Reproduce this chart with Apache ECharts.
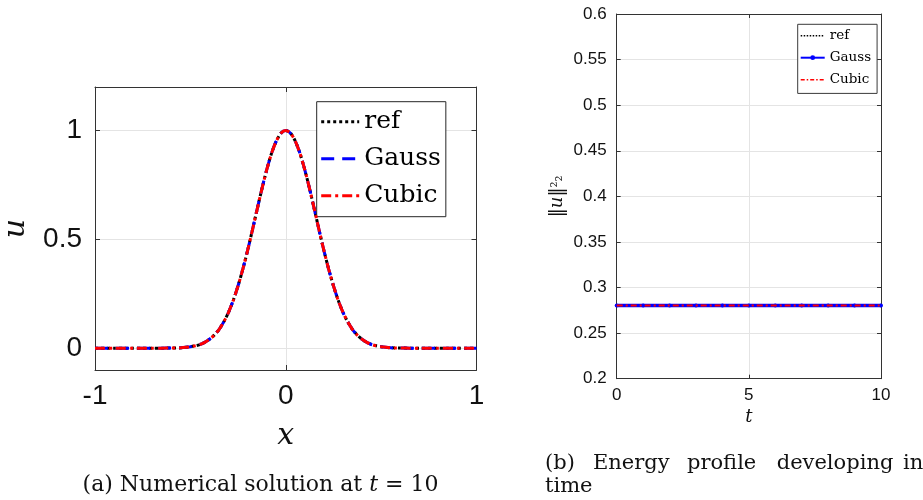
<!DOCTYPE html>
<html>
<head>
<meta charset="utf-8">
<script src="https://cdn.jsdelivr.net/npm/echarts@6/dist/echarts.min.js"></script>
<style>html,body{margin:0;padding:0;background:#fff;}#main{width:923px;height:500px;}</style>
</head>
<body>
<div id="main"></div>
<script>
// ---- Panel (a): numerical solution at t = 10 ----
const xs = [-1, -0.95, -0.9, -0.85, -0.8, -0.75, -0.7, -0.65, -0.6, -0.575, -0.55, -0.525, -0.5, -0.475, -0.45, -0.425, -0.4, -0.375,
            -0.35, -0.325, -0.3, -0.275, -0.25, -0.225, -0.2, -0.175, -0.15, -0.125, -0.1, -0.075, -0.05, -0.025, 0,
            0.025, 0.05, 0.075, 0.1, 0.125, 0.15, 0.175, 0.2, 0.225, 0.25, 0.275, 0.3, 0.325, 0.35, 0.375, 0.4, 0.425,
            0.45, 0.475, 0.5, 0.525, 0.55, 0.575, 0.6, 0.65, 0.7, 0.75, 0.8, 0.85, 0.9, 0.95, 1];
const uRef   = [0, 0, 0, 0, 0, 0, 0, 0, 0.001, 0.001, 0.002, 0.004, 0.007, 0.011, 0.017, 0.027, 0.041, 0.060,
                0.086, 0.121, 0.165, 0.220, 0.287, 0.363, 0.449, 0.542, 0.638, 0.732, 0.819, 0.894, 0.951, 0.988, 1,
                0.988, 0.951, 0.894, 0.819, 0.732, 0.638, 0.542, 0.449, 0.363, 0.287, 0.220, 0.165, 0.121, 0.086, 0.060, 0.041, 0.027,
                0.017, 0.011, 0.007, 0.004, 0.002, 0.001, 0.001, 0, 0, 0, 0, 0, 0, 0, 0];
const uGauss = [0, 0, 0, 0, 0, 0, 0, 0, 0.001, 0.001, 0.002, 0.004, 0.007, 0.011, 0.017, 0.027, 0.041, 0.060,
                0.086, 0.121, 0.165, 0.220, 0.287, 0.363, 0.449, 0.542, 0.638, 0.732, 0.819, 0.894, 0.951, 0.988, 1,
                0.988, 0.951, 0.894, 0.819, 0.732, 0.638, 0.542, 0.449, 0.363, 0.287, 0.220, 0.165, 0.121, 0.086, 0.060, 0.041, 0.027,
                0.017, 0.011, 0.007, 0.004, 0.002, 0.001, 0.001, 0, 0, 0, 0, 0, 0, 0, 0];
const uCubic = [0, 0, 0, 0, 0, 0, 0, 0, 0.001, 0.001, 0.002, 0.004, 0.007, 0.011, 0.017, 0.027, 0.041, 0.060,
                0.086, 0.121, 0.165, 0.220, 0.287, 0.363, 0.449, 0.542, 0.638, 0.732, 0.819, 0.894, 0.951, 0.988, 1,
                0.988, 0.951, 0.894, 0.819, 0.732, 0.638, 0.542, 0.449, 0.363, 0.287, 0.220, 0.165, 0.121, 0.086, 0.060, 0.041, 0.027,
                0.017, 0.011, 0.007, 0.004, 0.002, 0.001, 0.001, 0, 0, 0, 0, 0, 0, 0, 0];
const uTicks = [0, 0.5, 1];

// ---- Panel (b): energy profile in time ----
const ts = [0, 1, 2, 3, 4, 5, 6, 7, 8, 9, 10];
const eRef   = [0.2802, 0.2802, 0.2802, 0.2802, 0.2802, 0.2802, 0.2802, 0.2802, 0.2802, 0.2802, 0.2802];
const eGauss = [0.2802, 0.2802, 0.2802, 0.2802, 0.2802, 0.2802, 0.2802, 0.2802, 0.2802, 0.2802, 0.2802];
const eCubic = [0.2802, 0.2802, 0.2802, 0.2802, 0.2802, 0.2802, 0.2802, 0.2802, 0.2802, 0.2802, 0.2802];

const legendNames = ['ref', 'Gauss', 'Cubic'];

const zip = (a, b) => a.map((v, i) => [v, b[i]]);
const AX = '#333333';
const GRIDC = '#e4e4e4';
const SANS = 'Liberation Sans';
const SERIF = 'DejaVu Serif';

function frameAxis(base) {
  return Object.assign({
    axisLine: { show: true, onZero: false, lineStyle: { color: AX, width: 1 } },
    axisTick: { show: true, inside: true, length: 5, lineStyle: { color: AX } },
    axisLabel: { show: false },
    splitLine: { show: false }
  }, base);
}

const chart = echarts.init(document.getElementById('main'), null, { renderer: 'canvas' });

const option = {
  animation: false,
  backgroundColor: '#ffffff',
  grid: [
    { left: 95, top: 87, width: 381.5, height: 283, containLabel: false },
    { left: 616.7, top: 14, width: 264.3, height: 364.7, containLabel: false }
  ],
  xAxis: [
    frameAxis({
      gridIndex: 0, type: 'value', min: -1, max: 1, interval: 1, position: 'bottom',
      axisLabel: { show: true, fontFamily: SANS, fontSize: 28, color: '#111', margin: 12 },
      splitLine: { show: true, lineStyle: { color: GRIDC, width: 1 } },
      name: 'x', nameLocation: 'middle', nameGap: 51,
      nameTextStyle: { fontFamily: SERIF, fontStyle: 'italic', fontSize: 30, color: '#111' }
    }),
    frameAxis({ gridIndex: 0, type: 'value', min: -1, max: 1, interval: 1, position: 'top' }),
    frameAxis({
      gridIndex: 1, type: 'value', min: 0, max: 10, interval: 5, position: 'bottom',
      axisTick: { show: true, inside: true, length: 4, lineStyle: { color: AX } },
      axisLabel: { show: true, fontFamily: SANS, fontSize: 17, color: '#111', margin: 8 },
      splitLine: { show: true, lineStyle: { color: GRIDC, width: 1 } },
      name: 't', nameLocation: 'middle', nameGap: 30,
      nameTextStyle: { fontFamily: SERIF, fontStyle: 'italic', fontSize: 18, color: '#111' }
    }),
    frameAxis({ gridIndex: 1, type: 'value', min: 0, max: 10, interval: 5, position: 'top',
      axisTick: { show: true, inside: true, length: 4, lineStyle: { color: AX } } })
  ],
  yAxis: [
    frameAxis({
      gridIndex: 0, type: 'value', min: -0.1, max: 1.2, position: 'left',
      axisTick: { show: true, inside: true, length: 5, lineStyle: { color: AX }, customValues: uTicks },
      axisLabel: { show: true, fontFamily: SANS, fontSize: 28, color: '#111', margin: 13, customValues: uTicks },
      splitLine: { show: true, lineStyle: { color: GRIDC, width: 1 } },
      name: 'u', nameLocation: 'middle', nameGap: 64, nameRotate: 90,
      nameTextStyle: { fontFamily: SERIF, fontStyle: 'italic', fontSize: 30, color: '#111' }
    }),
    frameAxis({
      gridIndex: 0, type: 'value', min: -0.1, max: 1.2, position: 'right',
      axisTick: { show: true, inside: true, length: 5, lineStyle: { color: AX }, customValues: uTicks }
    }),
    frameAxis({
      gridIndex: 1, type: 'value', min: 0.2, max: 0.6, interval: 0.05, position: 'left',
      axisTick: { show: true, inside: true, length: 4, lineStyle: { color: AX } },
      axisLabel: { show: true, fontFamily: SANS, fontSize: 17, color: '#111', margin: 10 },
      splitLine: { show: true, lineStyle: { color: GRIDC, width: 1 } },
      name: '{n|‖}{i|u}{n|‖}{s|²₂}', nameLocation: 'middle', nameGap: 50, nameRotate: 90,
      nameTextStyle: {
        fontFamily: SERIF, fontSize: 18, color: '#111',
        rich: {
          n: { fontFamily: SERIF, fontSize: 18, color: '#111' },
          i: { fontFamily: SERIF, fontSize: 18, fontStyle: 'italic', color: '#111' },
          s: { fontFamily: SERIF, fontSize: 15, color: '#111' }
        }
      }
    }),
    frameAxis({
      gridIndex: 1, type: 'value', min: 0.2, max: 0.6, interval: 0.05, position: 'right',
      axisTick: { show: true, inside: true, length: 4, lineStyle: { color: AX } }
    })
  ],
  legend: [
    {
      orient: 'vertical', left: 316.7, top: 101.7,
      padding: [5, 5, 6, 3], itemGap: 7, itemWidth: 38, itemHeight: 14,
      backgroundColor: '#ffffff', borderColor: '#262626', borderWidth: 1, borderRadius: 0,
      selectedMode: false,
      textStyle: { fontFamily: SERIF, fontSize: 25, color: '#000', lineHeight: 30 },
      data: [
        { name: legendNames[0], itemStyle: { opacity: 0 }, lineStyle: { color: '#000000', width: 3, type: [3, 3] } },
        { name: legendNames[1], itemStyle: { opacity: 0 }, lineStyle: { color: '#0000ff', width: 3, type: [13, 8] } },
        { name: legendNames[2], itemStyle: { opacity: 0 }, lineStyle: { color: '#ff0000', width: 3, type: [10, 4, 3, 4] } }
      ]
    },
    {
      orient: 'vertical', left: 797.7, top: 24.3,
      padding: [3.4, 6, 5.7, 2], itemGap: 6, itemWidth: 24, itemHeight: 6,
      backgroundColor: '#ffffff', borderColor: '#3a3a3a', borderWidth: 1, borderRadius: 0,
      selectedMode: false,
      formatter: (n) => n.trim(),
      textStyle: { fontFamily: SERIF, fontSize: 13.5, color: '#000', lineHeight: 16 },
      data: [
        { name: legendNames[0] + ' ', itemStyle: { opacity: 0 }, lineStyle: { color: '#000000', width: 1.5, type: [1.5, 1.5] } },
        { name: legendNames[1] + ' ', itemStyle: { color: '#0000ff', opacity: 1, borderWidth: 0 }, lineStyle: { color: '#0000ff', width: 2, type: 'solid' } },
        { name: legendNames[2] + ' ', itemStyle: { opacity: 0 }, lineStyle: { color: '#ff0000', width: 1.5, type: [4, 2, 1.5, 2] } }
      ]
    }
  ],
  series: [
    {
      name: legendNames[0], type: 'line', xAxisIndex: 0, yAxisIndex: 0,
      data: zip(xs, uRef), showSymbol: false, symbol: 'circle', smooth: 0.25,
      color: '#000000', lineStyle: { color: '#000000', width: 3, type: [3, 3] }, z: 2
    },
    {
      name: legendNames[1], type: 'line', xAxisIndex: 0, yAxisIndex: 0,
      data: zip(xs, uGauss), showSymbol: false, symbol: 'circle', smooth: 0.25,
      color: '#0000ff', lineStyle: { color: '#0000ff', width: 3, type: [13, 8] }, z: 3
    },
    {
      name: legendNames[2], type: 'line', xAxisIndex: 0, yAxisIndex: 0,
      data: zip(xs, uCubic), showSymbol: false, symbol: 'circle', smooth: 0.25,
      color: '#ff0000', lineStyle: { color: '#ff0000', width: 3, type: [10, 4, 3, 4] }, z: 4
    },
    {
      name: legendNames[0] + ' ', type: 'line', xAxisIndex: 2, yAxisIndex: 2,
      data: zip(ts, eRef), showSymbol: false, symbol: 'circle',
      color: '#000000', lineStyle: { color: '#000000', width: 1.5, type: [1.5, 1.5] }, z: 2
    },
    {
      name: legendNames[1] + ' ', type: 'line', xAxisIndex: 2, yAxisIndex: 2,
      data: zip(ts, eGauss), showSymbol: true, symbol: 'circle', symbolSize: 4,
      color: '#0000ff', itemStyle: { color: '#0000ff', borderWidth: 0 },
      lineStyle: { color: '#0000ff', width: 3.5 }, z: 3
    },
    {
      name: legendNames[2] + ' ', type: 'line', xAxisIndex: 2, yAxisIndex: 2,
      data: zip(ts, eCubic), showSymbol: false, symbol: 'circle',
      color: '#ff0000', lineStyle: { color: '#ff0000', width: 2, type: [6, 3, 2, 3] }, z: 4
    }
  ],
  graphic: [
    {
      type: 'text', x: 260.5, y: 485, silent: true,
      style: {
        text: '{n|(a) Numerical solution at }{i|t}{n| = 10}',
        align: 'center', verticalAlign: 'middle', textAlign: 'center', textVerticalAlign: 'middle',
        rich: {
          n: { fontFamily: SERIF, fontSize: 22, fill: '#111', color: '#111' },
          i: { fontFamily: SERIF, fontSize: 22, fontStyle: 'italic', fill: '#111', color: '#111' }
        },
        fontFamily: SERIF, fontSize: 22, fill: '#111'
      }
    },
    { type: 'text', x: 545, y: 464, silent: true, style: { text: '(b)', fontFamily: SERIF, fontSize: 21, fill: '#111', align: 'left', verticalAlign: 'middle', textAlign: 'left', textVerticalAlign: 'middle' } },
    { type: 'text', x: 593, y: 464, silent: true, style: { text: 'Energy', fontFamily: SERIF, fontSize: 21, fill: '#111', align: 'left', verticalAlign: 'middle', textAlign: 'left', textVerticalAlign: 'middle' } },
    { type: 'text', x: 687, y: 464, silent: true, style: { text: 'profile', fontFamily: SERIF, fontSize: 21, fill: '#111', align: 'left', verticalAlign: 'middle', textAlign: 'left', textVerticalAlign: 'middle' } },
    { type: 'text', x: 776.7, y: 464, silent: true, style: { text: 'developing', fontFamily: SERIF, fontSize: 21, fill: '#111', align: 'left', verticalAlign: 'middle', textAlign: 'left', textVerticalAlign: 'middle' } },
    { type: 'text', x: 903, y: 464, silent: true, style: { text: 'in', fontFamily: SERIF, fontSize: 21, fill: '#111', align: 'left', verticalAlign: 'middle', textAlign: 'left', textVerticalAlign: 'middle' } },
    { type: 'text', x: 545, y: 487, silent: true, style: { text: 'time', fontFamily: SERIF, fontSize: 21, fill: '#111', align: 'left', verticalAlign: 'middle', textAlign: 'left', textVerticalAlign: 'middle' } }
  ]
};

chart.setOption(option);
</script>
</body>
</html>
